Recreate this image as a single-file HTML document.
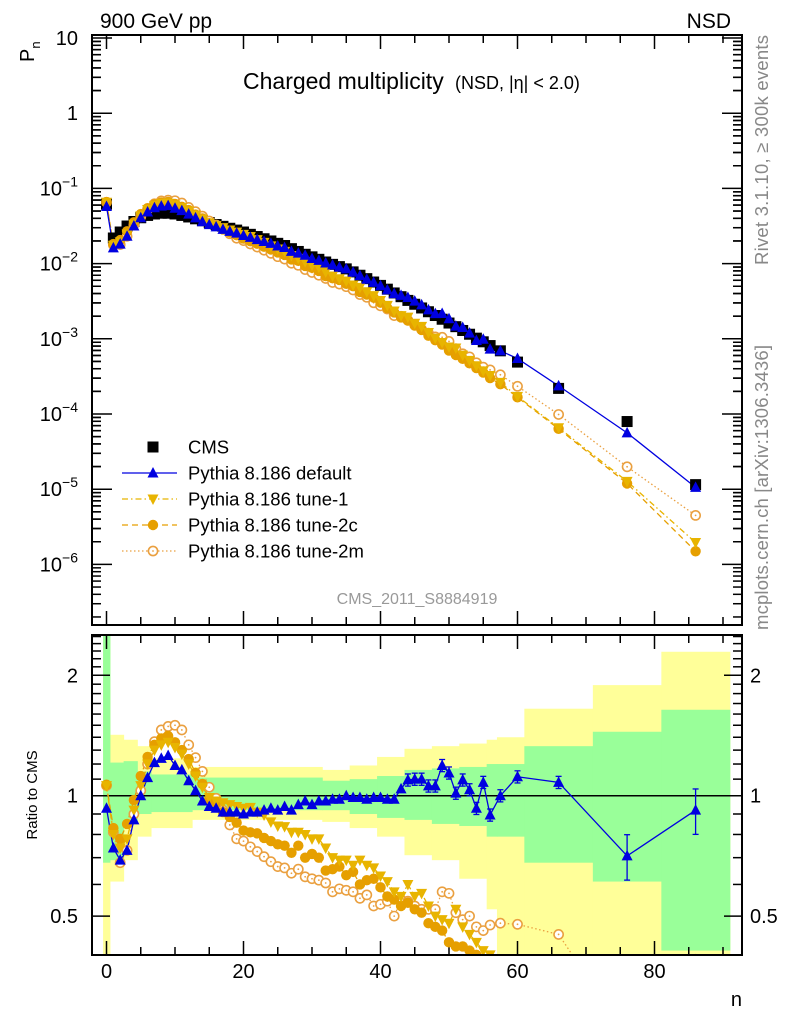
<!DOCTYPE html>
<html><head><meta charset="utf-8"><style>
html,body{margin:0;padding:0;background:#fff;width:786px;height:1024px;overflow:hidden;}
svg{display:block;font-family:"Liberation Sans",sans-serif;}
</style></head><body>
<svg id="chart" width="786" height="1024" viewBox="0 0 786 1024" xmlns="http://www.w3.org/2000/svg">
<defs>
<clipPath id="clipTop"><rect x="92" y="35" width="650" height="590"/></clipPath>
<clipPath id="clipBot"><rect x="92" y="635" width="650" height="320"/></clipPath>
</defs>
<g id="bands" clip-path="url(#clipBot)"></g>
<g id="ticks"></g>
<g id="topMarks" clip-path="url(#clipTop)"></g>
<g id="botMarks" clip-path="url(#clipBot)"></g>
<rect x="92" y="35" width="650" height="590" fill="none" stroke="#000" stroke-width="2"/>
<rect x="92" y="635" width="650" height="320" fill="none" stroke="#000" stroke-width="2"/>
<text x="100" y="28" font-size="21">900 GeV pp</text>
<text x="731" y="28" font-size="21" text-anchor="end">NSD</text>
<text transform="translate(34,62) rotate(-90)" font-size="20">P<tspan font-size="13" dy="6">n</tspan></text>
<text x="243" y="89" font-size="23">Charged multiplicity</text>
<text x="455" y="89" font-size="18">(NSD, |η| &lt; 2.0)</text>
<text transform="translate(768,265) rotate(-90)" font-size="18.5" fill="#888" textLength="230">Rivet 3.1.10, ≥ 300k events</text>
<text transform="translate(768,630) rotate(-90)" font-size="18.5" fill="#888" textLength="285">mcplots.cern.ch [arXiv:1306.3436]</text>
<text x="417" y="604" font-size="16" fill="#999" text-anchor="middle">CMS_2011_S8884919</text>
<text transform="translate(37,795) rotate(-90)" font-size="15" text-anchor="middle">Ratio to CMS</text>
<text x="742" y="1006" font-size="20" text-anchor="end">n</text>
<g id="legend"></g>
</svg>
<script>
const nVals=[0,1,2,3,4,5,6,7,8,9,10,11,12,13,14,15,16,17,18,19,20,21,22,23,24,25,26,27,28,29,30,31,32,33,34,35,36,37,38,39,40,41,42,43,44,45,46,47,48,49,50,51,52,53,54,55,56,57.5,60,66,76,86];
const cmsVals=[0.0617,0.0219,0.0263,0.0316,0.0363,0.0407,0.0437,0.0457,0.0468,0.0468,0.0457,0.0437,0.0417,0.0394,0.0372,0.0351,0.0331,0.0313,0.0295,0.0279,0.0263,0.0245,0.0229,0.0214,0.0200,0.0186,0.0174,0.0158,0.0145,0.0133,0.0123,0.0114,0.0105,0.00977,0.00912,0.00851,0.00776,0.00700,0.00631,0.00569,0.00513,0.00457,0.00407,0.00363,0.00324,0.00288,0.00257,0.00229,0.00204,0.00182,0.00162,0.00145,0.00129,0.00115,0.00102,0.000912,0.000813,0.000692,0.000490,0.000219,0.0000794,0.0000115];
const ratioDefault=[0.93,0.74,0.69,0.73,0.87,1.0,1.11,1.21,1.24,1.26,1.19,1.16,1.09,1.03,0.97,0.94,0.93,0.91,0.91,0.91,0.90,0.91,0.91,0.92,0.93,0.92,0.94,0.92,0.95,0.97,0.95,0.97,0.97,0.98,0.98,1.0,0.99,0.99,0.98,0.99,0.99,0.98,0.98,1.04,1.095,1.10,1.10,1.058,1.058,1.19,1.14,1.015,1.095,1.035,0.93,1.08,0.895,1.0,1.115,1.08,0.707,0.92];
const ratioTune1=[1.06,0.8,0.74,0.78,0.92,1.06,1.2,1.3,1.34,1.36,1.32,1.27,1.2,1.12,1.05,0.99,0.97,0.96,0.95,0.94,0.93,0.935,0.91,0.895,0.86,0.84,0.837,0.81,0.81,0.80,0.78,0.78,0.74,0.70,0.69,0.69,0.67,0.69,0.67,0.66,0.63,0.61,0.575,0.56,0.60,0.56,0.57,0.53,0.50,0.49,0.48,0.52,0.47,0.45,0.43,0.41,0.40,0.38,0.35,0.30,0.16,0.17];
const ratioTune2c=[1.065,0.83,0.78,0.85,0.975,1.12,1.25,1.34,1.39,1.41,1.36,1.30,1.235,1.14,1.07,0.98,0.96,0.91,0.885,0.856,0.818,0.81,0.805,0.784,0.77,0.756,0.75,0.72,0.75,0.70,0.715,0.70,0.65,0.655,0.665,0.633,0.645,0.60,0.615,0.62,0.59,0.56,0.55,0.53,0.54,0.52,0.51,0.48,0.47,0.46,0.43,0.42,0.42,0.41,0.40,0.39,0.37,0.36,0.34,0.29,0.15,0.13];
const ratioTune2m=[1.06,0.81,0.68,0.73,0.9,1.03,1.2,1.365,1.46,1.49,1.50,1.46,1.34,1.245,1.15,1.05,0.985,0.92,0.845,0.78,0.77,0.745,0.725,0.704,0.684,0.665,0.66,0.64,0.655,0.627,0.62,0.615,0.605,0.575,0.585,0.58,0.575,0.554,0.565,0.53,0.535,0.545,0.50,0.55,0.545,0.53,0.52,0.52,0.52,0.575,0.57,0.51,0.49,0.50,0.47,0.46,0.475,0.48,0.477,0.45,0.25,0.39];
const bandLo=[-0.5,0.5,2.5,4.5,6.5,12.5,31.5,35.5,39.5,43.5,47.5,51.5,55.5,57,61,71,81];
const bandHi=[0.5,2.5,4.5,6.5,12.5,31.5,35.5,39.5,43.5,47.5,51.5,55.5,57,61,71,81,91];
const greenLo=[0.68,0.69,0.85,0.90,0.91,0.92,0.92,0.90,0.88,0.87,0.85,0.84,0.79,0.79,0.68,0.61,0.41];
const greenHi=[3,1.21,1.22,1.15,1.13,1.11,1.09,1.10,1.12,1.16,1.17,1.18,1.2,1.2,1.33,1.445,1.64];
const yellowLo=[0.3,0.61,0.69,0.79,0.83,0.87,0.86,0.83,0.79,0.71,0.69,0.62,0.52,0.3,0.3,0.3,0.3];
const yellowHi=[3,1.42,1.38,1.33,1.24,1.18,1.16,1.19,1.25,1.31,1.33,1.35,1.38,1.40,1.65,1.89,2.29];
const xTicks=[0,20,40,60,80];
const topDecades=[1,0,-1,-2,-3,-4,-5,-6];
const ratioTicks=[2,1,0.5];

const NS="http://www.w3.org/2000/svg";
const X=n=>106.5+6.85*n;
const YT=p=>38-75.2*(Math.log10(p)-1);
const YB=r=>795.7-400*Math.log10(r);
function mk(tag,attrs,parent){const e=document.createElementNS(NS,tag);for(const k in attrs)e.setAttribute(k,attrs[k]);parent.appendChild(e);return e;}
const bands=document.getElementById('bands'),ticks=document.getElementById('ticks'),topG=document.getElementById('topMarks'),botG=document.getElementById('botMarks'),leg=document.getElementById('legend');

for(let i=0;i<bandLo.length;i++){
  const x0=X(bandLo[i]),x1=X(bandHi[i]);
  const y=mk('rect',{x:x0,y:YB(yellowHi[i]),width:x1-x0+0.5,height:YB(yellowLo[i])-YB(yellowHi[i]),fill:'#ffff99'},bands);
  
  
}
for(let i=0;i<bandLo.length;i++){
  const x0=X(bandLo[i]),x1=X(bandHi[i]);
  const g=mk('rect',{x:x0,y:YB(greenHi[i]),width:x1-x0+0.5,height:YB(greenLo[i])-YB(greenHi[i]),fill:'#99ff99'},bands);
  
  
}
const one=mk('line',{x1:92,x2:742,y1:YB(1),y2:YB(1),stroke:'#000','stroke-width':1.5},bands);



function tl(x1,y1,x2,y2){mk('line',{x1,y1,x2,y2,stroke:'#000','stroke-width':1.5},ticks);}
for(let n=0;n<=90;n+=5){const x=X(n);const L=(n%20===0)?14:8;
  tl(x,35,x,35+L);tl(x,625,x,625-L);tl(x,635,x,635+L);tl(x,955,x,955-L);}
xTicks.forEach(v=>{const t=mk('text',{x:X(v),y:978,'font-size':20,'text-anchor':'middle'},ticks);t.textContent=v;
  
  });
topDecades.forEach(d=>{
  const y=YT(Math.pow(10,d));tl(92,y,112,y);tl(742,y,722,y);
  for(let m=2;m<=9;m++){const ym=YT(m*Math.pow(10,d));if(ym>35){tl(92,ym,101,ym);tl(742,ym,733,ym);}}
  for(let m=2;m<=9;m++){const ym=YT(m*Math.pow(10,d-1));if(ym<625){tl(92,ym,101,ym);tl(742,ym,733,ym);}}
  const t=mk('text',{x:78,y:y+7,'font-size':20,'text-anchor':'end'},ticks);
  if(d===1)t.textContent='10';else if(d===0)t.textContent='1';
  else{t.textContent='10';const s=mk('tspan',{'font-size':14,dy:-9},t);s.textContent='−'+(-d);}
  
  
});
for(let r=0.4;r<=2.5;r=Math.round((r+0.1)*10)/10){const y=YB(r);const major=ratioTicks.includes(r);
  const L=major?18:9;tl(92,y,92+L,y);tl(742,y,742-L,y);}
ratioTicks.forEach(r=>{const y=YB(r)+7;
  const a=mk('text',{x:78,y,'font-size':20,'text-anchor':'end'},ticks);a.textContent=r;
  
  
  const b=mk('text',{x:750,y,'font-size':20},ticks);b.textContent=r;
  
  });

function marker(type,x,y,color,g){
  let e;
  if(type==='sq')e=mk('rect',{x:x-5.5,y:y-5.5,width:11,height:11,fill:'#000'},g);
  else if(type==='up')e=mk('polygon',{points:`${x},${y-6} ${x-5.5},${y+4.5} ${x+5.5},${y+4.5}`,fill:color},g);
  else if(type==='dn')e=mk('polygon',{points:`${x},${y+6} ${x-5.5},${y-4.5} ${x+5.5},${y-4.5}`,fill:color},g);
  else if(type==='dot')e=mk('circle',{cx:x,cy:y,r:5.2,fill:color},g);
  else {e=mk('circle',{cx:x,cy:y,r:4.6,fill:'#fff',stroke:color,'stroke-width':1.6},g);mk('circle',{cx:x,cy:y,r:0.9,fill:color},g);}
  return e;
}
const series=[
 {name:'tune-2m',r:ratioTune2m,type:'open',color:'#eaa040',dash:'1.5,2.5'},
 {name:'tune-2c',r:ratioTune2c,type:'dot',color:'#e69f00',dash:'6,4'},
 {name:'tune-1',r:ratioTune1,type:'dn',color:'#e8b400',dash:'6,3,1.5,3'},
 {name:'default',r:ratioDefault,type:'up',color:'#0000e0',dash:''}
];
series.forEach(s=>{
  const ptsT=nVals.map((n,i)=>X(n)+','+YT(cmsVals[i]*s.r[i])).join(' ');
  const ptsB=nVals.map((n,i)=>X(n)+','+YB(s.r[i])).join(' ');
  const lt=mk('polyline',{points:ptsT,fill:'none',stroke:s.color,'stroke-width':1.3,'stroke-dasharray':s.dash},topG);
  
  
  const lb=mk('polyline',{points:ptsB,fill:'none',stroke:s.color,'stroke-width':1.3,'stroke-dasharray':s.dash},botG);
  
  
});
nVals.forEach((n,i)=>{const m=marker('sq',X(n),YT(cmsVals[i]),'#000',topG);
  
  });
series.forEach(s=>{
  nVals.forEach((n,i)=>{
    const m=marker(s.type,X(n),YT(cmsVals[i]*s.r[i]),s.color,topG);
    
    
    if(s.name==='default'&&n>=44){const e=n>=76?0.13:0.035;
      const y1=YB(s.r[i]*(1+e)),y2=YB(s.r[i]*(1-e));
      mk('line',{x1:X(n),x2:X(n),y1,y2,stroke:s.color,'stroke-width':1.3},botG);
      mk('line',{x1:X(n)-3,x2:X(n)+3,y1,y2:y1,stroke:s.color,'stroke-width':1.3},botG);
      mk('line',{x1:X(n)-3,x2:X(n)+3,y1:y2,y2,stroke:s.color,'stroke-width':1.3},botG);}
    const b=marker(s.type,X(n),YB(s.r[i]),s.color,botG);
    
    
  });
});
const legItems=[['sq','#000','','CMS'],['up','#0000e0','','Pythia 8.186 default'],['dn','#e8b400','6,3,1.5,3','Pythia 8.186 tune-1'],['dot','#e69f00','6,4','Pythia 8.186 tune-2c'],['open','#eaa040','1.5,2.5','Pythia 8.186 tune-2m']];
legItems.forEach((it,i)=>{const y=447+26*i;
  if(it[0]!=='sq')mk('line',{x1:122,x2:177,y1:y,y2:y,stroke:it[1],'stroke-width':1.3,'stroke-dasharray':it[2]},leg);
  marker(it[0],153,y,it[1],leg);
  const t=mk('text',{x:188,y:y+6.5,'font-size':18.5},leg);t.textContent=it[3];
  
  });
</script>
</body></html>
